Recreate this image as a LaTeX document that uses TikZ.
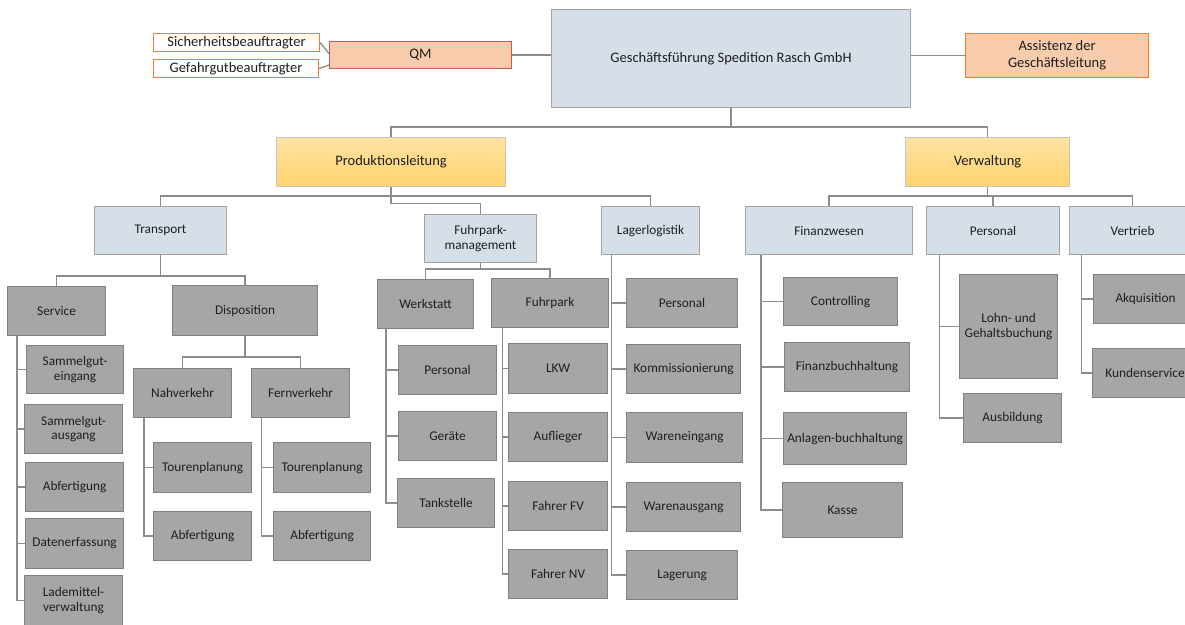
\documentclass[tikz,border=0pt]{standalone}
\usepackage{fontspec}
\setmainfont{Carlito}
\usetikzlibrary{calc}

\definecolor{blueFill}{HTML}{D6DFE8}
\definecolor{blueLine}{HTML}{A3A3A3}
\definecolor{grayFill}{HTML}{A6A6A6}
\definecolor{grayLine}{HTML}{808080}
\definecolor{goldTop}{HTML}{FFE3A3}
\definecolor{goldBot}{HTML}{FFD36E}
\definecolor{goldLine}{HTML}{C4C4C4}
\definecolor{peach}{HTML}{F8CBAD}
\definecolor{qmLine}{HTML}{C65B55}
\definecolor{orangeLine}{HTML}{ED7D31}
\definecolor{wireColor}{HTML}{8C8C8C}
\definecolor{ink}{HTML}{1F1F1F}

% box given by its top-left and bottom-right corners
\newcommand\orgbox[7]{%
  \pgfmathsetmacro\obw{#5-#3}\pgfmathsetmacro\obh{#6-#4}%
  \node[#1, anchor=north west, minimum width=\obw pt, minimum height=\obh pt] (#2) at (#3,#4) {#7};}

\begin{document}
\begin{tikzpicture}[
  x=1pt, y=-1pt,
  unit/.style={inner sep=0pt, align=center, text=ink, line width=1.1pt,
               font=\fontsize{13.3}{14.5}\selectfont},
  bigtext/.style={font=\fontsize{14.5}{16.7}\selectfont},
  bluebox/.style={unit, draw=blueLine, fill=blueFill},
  topbox/.style={bluebox, bigtext},
  graybox/.style={unit, draw=grayLine, fill=grayFill},
  goldbox/.style={unit, bigtext, draw=goldLine, top color=goldTop, bottom color=goldBot},
  qmbox/.style={unit, bigtext, draw=qmLine, fill=peach},
  asbox/.style={unit, bigtext, draw=orangeLine, fill=peach},
  dutybox/.style={unit, bigtext, draw=orangeLine, fill=white},
  wire/.style={draw=wireColor, line width=1.3pt},
]
\useasboundingbox (0,0) rectangle (1185,624);
\clip (0,0) rectangle (1185,624);

% ---- management level
\orgbox{dutybox}{sb}{153}{33}{319}{51}{Sicherheitsbeauftragter}
\orgbox{dutybox}{gg}{153}{59}{318}{77}{Gefahrgutbeauftragter}
\orgbox{qmbox}{qm}{329}{41}{511}{68}{QM}
\orgbox{topbox}{gf}{551}{9}{910}{107}{Geschäftsführung Spedition Rasch GmbH}
\orgbox{asbox}{as}{965}{33}{1148}{77}{Assistenz der\\Geschäftsleitung}
\orgbox{goldbox}{pl}{276}{137}{505}{186}{Produktionsleitung}
\orgbox{goldbox}{vw}{905}{137}{1069}{186}{Verwaltung}

% ---- departments
\orgbox{bluebox}{tr}{94}{206}{226}{254}{Transport}
\orgbox{bluebox}{fm}{424}{214}{536}{262}{Fuhrpark-\\management}
\orgbox{bluebox}{ll}{601}{206}{699}{254}{Lagerlogistik}
\orgbox{bluebox}{fw}{745}{206}{912}{254}{Finanzwesen}
\orgbox{bluebox}{pe}{926}{206}{1059}{254}{Personal}
\orgbox{bluebox}{vt}{1069}{206}{1195}{254}{Vertrieb}

% ---- transport
\orgbox{graybox}{svc}{7}{286}{105}{335}{Service}
\orgbox{graybox}{dis}{172}{285}{317}{335}{Disposition}
\orgbox{graybox}{s1}{26}{345}{123}{393}{Sammelgut-\\eingang}
\orgbox{graybox}{s2}{24}{404}{122}{453}{Sammelgut-\\ausgang}
\orgbox{graybox}{s3}{25}{462}{123}{511}{Abfertigung}
\orgbox{graybox}{s4}{25}{518}{123}{568}{Datenerfassung}
\orgbox{graybox}{s5}{24}{575}{122}{625}{Lademittel-\\verwaltung}
\orgbox{graybox}{nv}{133}{368}{231}{417}{Nahverkehr}
\orgbox{graybox}{fv}{251}{368}{349}{417}{Fernverkehr}
\orgbox{graybox}{n1}{153}{442}{251}{492}{Tourenplanung}
\orgbox{graybox}{n2}{153}{511}{251}{560}{Abfertigung}
\orgbox{graybox}{f1}{273}{442}{370}{492}{Tourenplanung}
\orgbox{graybox}{f2}{273}{511}{370}{560}{Abfertigung}

% ---- fleet management
\orgbox{graybox}{ws}{377}{279}{473}{328}{Werkstatt}
\orgbox{graybox}{fp}{491}{278}{608}{327}{Fuhrpark}
\orgbox{graybox}{w1}{398}{345}{496}{394}{Personal}
\orgbox{graybox}{w2}{398}{411}{496}{460}{Geräte}
\orgbox{graybox}{w3}{397}{478}{494}{527}{Tankstelle}
\orgbox{graybox}{p1}{508}{343}{607}{393}{LKW}
\orgbox{graybox}{p2}{508}{412}{607}{461}{Auflieger}
\orgbox{graybox}{p3}{508}{481}{607}{530}{Fahrer FV}
\orgbox{graybox}{p4}{508}{549}{607}{598}{Fahrer NV}

% ---- warehouse logistics
\orgbox{graybox}{l0}{626}{278}{737}{327}{Personal}
\orgbox{graybox}{l1}{626}{344}{740}{393}{Kommissionierung}
\orgbox{graybox}{l2}{626}{412}{742}{462}{Wareneingang}
\orgbox{graybox}{l3}{626}{482}{740}{531}{Warenausgang}
\orgbox{graybox}{l4}{626}{550}{737}{599}{Lagerung}

% ---- administration
\orgbox{graybox}{c1}{783}{277}{897}{325}{Controlling}
\orgbox{graybox}{c2}{784}{342}{909}{391}{Finanzbuchhaltung}
\orgbox{graybox}{c3}{783}{412}{906}{464}{Anlagen-buchhaltung}
\orgbox{graybox}{c4}{782}{482}{902}{537}{Kasse}
\orgbox{graybox}{h1}{959}{274}{1057}{378}{Lohn- und\\Gehaltsbuchung}
\orgbox{graybox}{h2}{963}{393}{1061}{442}{Ausbildung}
\orgbox{graybox}{v1}{1093}{274}{1197}{323}{Akquisition}
\orgbox{graybox}{v2}{1092}{348}{1197}{397}{Kundenservice}

% ---- connectors: staff positions
\draw[wire] (sb.east) -- ([yshift=1.5pt]qm.west);
\draw[wire] (gg.east) -- ([yshift=-10pt]qm.west);
\draw[wire] (qm.east) -- (qm.east -| gf.west);
\draw[wire] (as.west) -- (as.west -| gf.east);

% ---- connectors: hierarchy
\draw[wire] (gf.south) -- ([yshift=10pt]gf.south |- pl.north);
\draw[wire] (pl.north) -- ++(0,-10) -| (vw.north);

\draw[wire] (tr.north) -- ++(0,-10) -| (ll.north);
\draw[wire] (pl.south) -- ([yshift=10.7pt]pl.south |- fm.north) -| (fm.north);

\draw[wire] (fw.north) -- ++(0,-10) -| (vt.north);
\draw[wire] (pe.north) -- ++(0,-10);
\draw[wire] (vw.south) -- ([yshift=10pt]vw.south |- fw.north);

\draw[wire] (tr.south) -- ([yshift=10pt]tr.south |- svc.north);
\draw[wire] (svc.north) -- ++(0,-10) -| (dis.north);

\draw[wire] (dis.south) -- ([yshift=11pt]dis.south |- nv.north);
\draw[wire] (nv.north) -- ++(0,-11) -| (fv.north);

\draw[wire] (fm.south) -- ([yshift=10pt]fm.south |- ws.north);
\draw[wire] (ws.north) -- ++(0,-10) -| (fp.north);

% ---- connectors: side spines
\foreach \c in {s1,s2,s3,s4,s5}
  \draw[wire] ([xshift=10pt]svc.south west) |- (\c.west);
\foreach \c in {n1,n2}
  \draw[wire] ([xshift=11pt]nv.south west) |- (\c.west);
\foreach \c in {f1,f2}
  \draw[wire] ([xshift=10.7pt]fv.south west) |- (\c.west);
\foreach \c in {w1,w2,w3}
  \draw[wire] ([xshift=9pt]ws.south west) |- (\c.west);
\foreach \c in {p1,p2,p3,p4}
  \draw[wire] ([xshift=11.7pt]fp.south west) |- (\c.west);
\foreach \c in {l0,l1,l2,l3,l4}
  \draw[wire] ([xshift=10.7pt]ll.south west) |- (\c.west);
\foreach \c in {c1,c2,c3,c4}
  \draw[wire] ([xshift=16pt]fw.south west) |- (\c.west);
\foreach \c in {h1,h2}
  \draw[wire] ([xshift=13.5pt]pe.south west) |- (\c.west);
\foreach \c in {v1,v2}
  \draw[wire] ([xshift=12.7pt]vt.south west) |- (\c.west);
\end{tikzpicture}
\end{document}
